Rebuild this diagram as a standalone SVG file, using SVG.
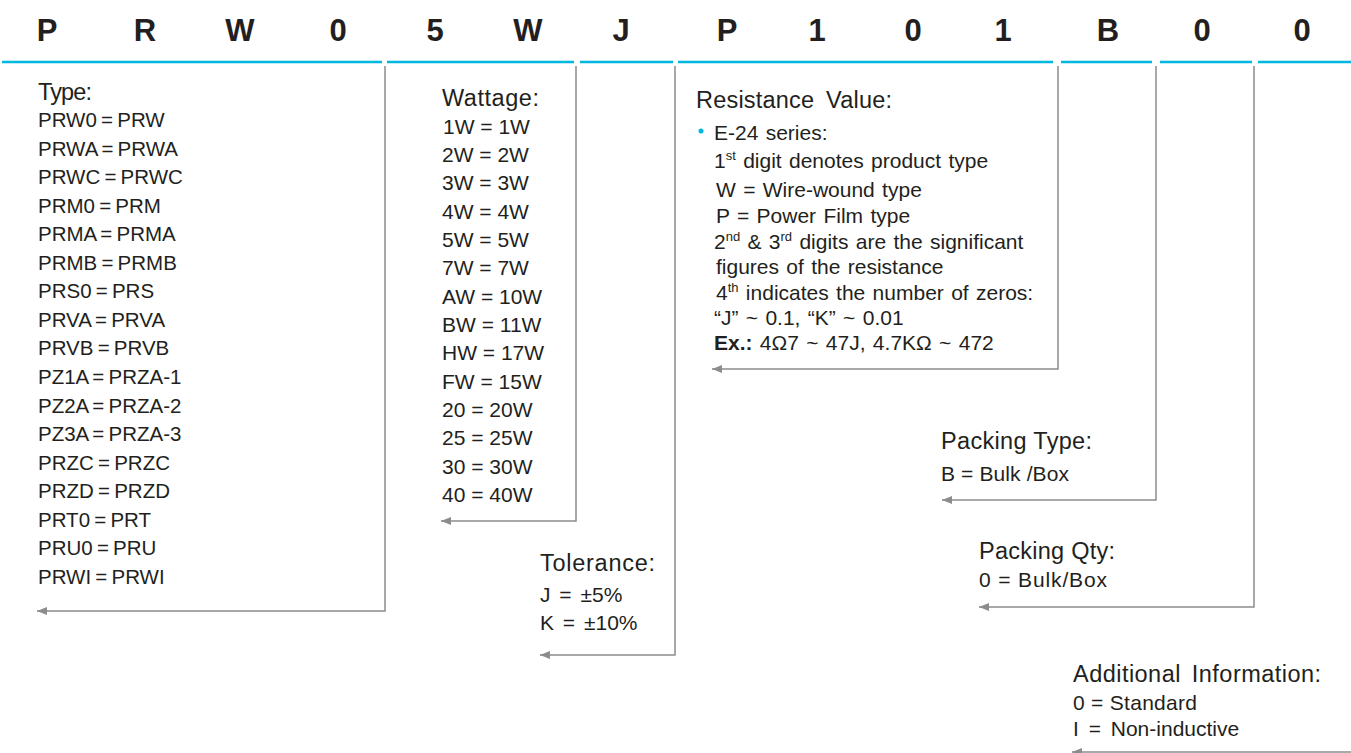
<svg xmlns="http://www.w3.org/2000/svg" width="1351" height="753" viewBox="0 0 1351 753">
<defs>
<style>
text{font-family:"Liberation Sans",Arial,sans-serif;fill:#231f20}
.hd{font-size:31px;font-weight:bold;text-anchor:middle}
.ti{font-size:23.5px}
.it{font-size:21px}
.tl{font-size:20.5px;word-spacing:-1.5px}
.rv{font-size:21px;word-spacing:1.5px}
.cy{stroke:#00b7e0;stroke-width:2.5;fill:none}
.ln{stroke:#8c8c8c;stroke-width:1.5;fill:none;marker-end:url(#ah)}
.sup{font-size:13px}
</style>
<marker id="ah" markerUnits="userSpaceOnUse" markerWidth="12" markerHeight="10" viewBox="0 -5 12 10" refX="10" refY="0" orient="auto">
<path d="M0,-4 L10,0 L0,4 Z" fill="#8c8c8c"/>
</marker>
</defs>
<rect width="1351" height="753" fill="#fff"/>
<g id="header">
<text class="hd" x="47" y="41">P</text>
<text class="hd" x="145" y="41">R</text>
<text class="hd" x="240" y="41">W</text>
<text class="hd" x="338" y="41">0</text>
<text class="hd" x="435" y="41">5</text>
<text class="hd" x="528" y="41">W</text>
<text class="hd" x="621" y="41">J</text>
<text class="hd" x="727" y="41">P</text>
<text class="hd" x="817" y="41">1</text>
<text class="hd" x="913" y="41">0</text>
<text class="hd" x="1003" y="41">1</text>
<text class="hd" x="1108" y="41">B</text>
<text class="hd" x="1202" y="41">0</text>
<text class="hd" x="1302" y="41">0</text>
<path class="cy" d="M2 62H382 M387 62H574 M580 62H673 M678 62H1053 M1061 62H1152 M1160 62H1252 M1258 62H1351"/>
</g>
<g id="connectors">
<path class="ln" d="M385 66V611H37"/>
<path class="ln" d="M576 66V521H441"/>
<path class="ln" d="M675 66V655H540"/>
<path class="ln" d="M1058 66V369H712"/>
<path class="ln" d="M1156 66V500H942"/>
<path class="ln" d="M1254 66V607H979"/>
<path class="ln" d="M1351 752H1072" stroke="#c8c8c8"/>
</g>
<g id="type">
<text class="ti" x="38" y="100" textLength="54">Type:</text>
<text class="tl" x="38" y="127">PRW0 = PRW</text>
<text class="tl" x="38" y="156">PRWA = PRWA</text>
<text class="tl" x="38" y="184">PRWC = PRWC</text>
<text class="tl" x="38" y="213">PRM0 = PRM</text>
<text class="tl" x="38" y="241">PRMA = PRMA</text>
<text class="tl" x="38" y="270">PRMB = PRMB</text>
<text class="tl" x="38" y="298">PRS0 = PRS</text>
<text class="tl" x="38" y="327">PRVA = PRVA</text>
<text class="tl" x="38" y="355">PRVB = PRVB</text>
<text class="tl" x="38" y="384">PZ1A = PRZA-1</text>
<text class="tl" x="38" y="413">PZ2A = PRZA-2</text>
<text class="tl" x="38" y="441">PZ3A = PRZA-3</text>
<text class="tl" x="38" y="470">PRZC = PRZC</text>
<text class="tl" x="38" y="498">PRZD = PRZD</text>
<text class="tl" x="38" y="527">PRT0 = PRT</text>
<text class="tl" x="38" y="555">PRU0 = PRU</text>
<text class="tl" x="38" y="584">PRWI = PRWI</text>
</g>
<g id="wattage">
<text class="ti" x="442" y="106" textLength="97">Wattage:</text>
<text class="it" x="443" y="134">1W = 1W</text>
<text class="it" x="442" y="162">2W = 2W</text>
<text class="it" x="442" y="190">3W = 3W</text>
<text class="it" x="442" y="219">4W = 4W</text>
<text class="it" x="442" y="247">5W = 5W</text>
<text class="it" x="442" y="275">7W = 7W</text>
<text class="it" x="442" y="304">AW = 10W</text>
<text class="it" x="442" y="332">BW = 11W</text>
<text class="it" x="442" y="360">HW = 17W</text>
<text class="it" x="442" y="389">FW = 15W</text>
<text class="it" x="442" y="417">20 = 20W</text>
<text class="it" x="442" y="445">25 = 25W</text>
<text class="it" x="442" y="474">30 = 30W</text>
<text class="it" x="442" y="502">40 = 40W</text>
</g>
<g id="resistance">
<text class="ti" x="696" y="108" word-spacing="5" textLength="196">Resistance Value:</text>
<circle cx="701" cy="131" r="2.5" fill="#00b7e0"/>
<text class="rv" x="714" y="140">E-24 series:</text>
<text class="rv" x="714" y="168">1<tspan class="sup" dy="-8">st</tspan><tspan dy="8"> digit denotes product type</tspan></text>
<text class="rv" x="716" y="197">W = Wire-wound type</text>
<text class="rv" x="716" y="223">P = Power Film type</text>
<text class="rv" x="714" y="249">2<tspan class="sup" dy="-8">nd</tspan><tspan dy="8"> &amp; 3</tspan><tspan class="sup" dy="-8">rd</tspan><tspan dy="8"> digits are the significant</tspan></text>
<text class="rv" x="716" y="274">figures of the resistance</text>
<text class="rv" x="716" y="300">4<tspan class="sup" dy="-8">th</tspan><tspan dy="8"> indicates the number of zeros:</tspan></text>
<text class="rv" x="714" y="325">“J” ~ 0.1, “K” ~ 0.01</text>
<text class="rv" x="714" y="350"><tspan font-weight="bold">Ex.:</tspan> 4Ω7 ~ 47J, 4.7KΩ ~ 472</text>
</g>
<g id="tolerance">
<text class="ti" x="540" y="571" textLength="115">Tolerance:</text>
<text class="it" x="540" y="602" word-spacing="3">J = ±5%</text>
<text class="it" x="540" y="630" word-spacing="3">K = ±10%</text>
</g>
<g id="packing-type">
<text class="ti" x="941" y="449" textLength="151">Packing Type:</text>
<text class="it" x="941" y="481" textLength="128">B = Bulk /Box</text>
</g>
<g id="packing-qty">
<text class="ti" x="979" y="559" textLength="136">Packing Qty:</text>
<text class="it" x="979" y="587" textLength="128">0 = Bulk/Box</text>
</g>
<g id="additional">
<text class="ti" x="1073" y="682" word-spacing="4" textLength="248">Additional Information:</text>
<text class="it" x="1073" y="710" textLength="124">0 = Standard</text>
<text class="it" x="1073" y="736" word-spacing="4">I = Non-inductive</text>
</g>
</svg>
